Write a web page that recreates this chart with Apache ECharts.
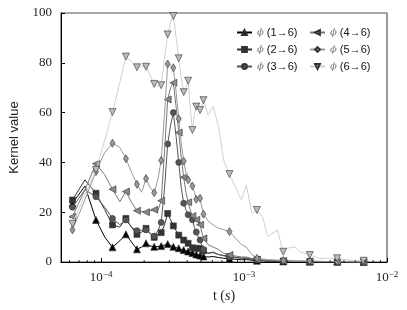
<!DOCTYPE html>
<html><head><meta charset="utf-8">
<script src="https://cdn.jsdelivr.net/npm/echarts@6/dist/echarts.min.js"></script>
<style>html,body{margin:0;padding:0;background:#fff}#c{width:407px;height:310px}</style>
</head><body><div id="c"></div>
<script>
// time grid in microseconds
const timesUs = [63,77,92,106,120,135,149,163,178,192,206,220,235,249,263,278,292,306,320,335,349,363,378,392,406,420,435,449,463,478,492,506,520,
  560,607,664,718,790,958,1038,1135,1230,1349,1459,1709,1880,2000,2270,2456,2880,3365,3881,4480,5754,6860];
// indices of points that carry a marker
const markerIdx = [0,2,4,6,8,10,12,14,16,18,20,22,24,26,28,30,32,37,41,45,49,52,54];

const k16 = [23.6,30.5,16.9,10,5.9,8.5,11.1,8,5.1,6,7.5,6.5,6.1,6.2,6.4,6.8,7.2,6.6,6.1,5.8,5.5,5.1,4.8,4.5,4.2,3.9,3.6,3.3,3.0,2.8,2.6,2.4,2.2,
  2.0,2.2,1.8,1.5,1.3,0.9,1.0,0.7,0.5,0.5,0.3,0.3,0.2,0.2,0.2,0.1,0.1,0.1,0.1,0.1,0,0];
const k26 = [24.9,33,27.6,21,14.9,14,17.5,14,11.1,12,13.5,11.5,9.9,11,11.8,15,19.5,17,14.5,12.5,10.8,9.8,8.8,8,7.5,6.5,5.7,5.6,5.5,5.5,5.4,5,4.5,
  3.5,3.8,3,2.6,2.2,1.6,1.6,1.2,1.0,0.8,0.6,0.5,0.4,0.4,0.3,0.3,0.2,0.2,0.1,0.1,0.1,0];
const k36 = [22,29,26.2,22,17.5,15,16.9,14,12.6,12.8,12.9,11.5,10.4,12.5,15.9,30,47.4,55,60,50,40,30,23.6,21,19,18,17,14,12,10,8.8,6.5,5,
  3.5,4,3,2.5,2,1.5,1.5,1,0.8,0.6,0.5,0.4,0.3,0.3,0.2,0.2,0.2,0.1,0.1,0.1,0,0];
const k46 = [18.2,29,39.5,35,29.2,24.2,28.3,24,20.6,20.3,20,20.5,21,20.5,24.6,45,65.3,70,72,62,52,42,34,28,24,21,18.5,17.5,17,16,15,12,9.5,
  7,6,5,3.5,2.8,2,2,1.4,1,0.8,0.6,0.5,0.4,0.3,0.3,0.2,0.2,0.1,0.1,0.1,0,0];
const k56 = [12.9,25,36.3,44,47.7,46,41.5,36,31.2,28,33.5,30,27.8,33,40.8,60,79.5,79,78,68,57.5,48,40.5,36,33,32,30.5,28,25.2,25.5,25.6,22,19.2,
  16.5,14.9,13.5,13,12.2,7,5.9,3,1.5,1.2,1.0,0.8,0.6,0.5,0.4,0.4,0.5,0.3,0.2,0.2,0.1,0.1];
const k66 = [15.3,27,37,49,60.2,72,82.5,80.5,78.2,78.5,78.4,75,71.5,70.5,71,82,91.4,96,98.8,90,81.8,74,68.2,70,72.8,62,53,59,62.4,61.5,61,63,65,
  59,62.4,54.3,41,35.3,24.9,30.9,19.5,20.9,18.2,10.2,12.9,4.1,5.5,6.1,4.1,2.8,1.5,1.5,1.5,0.5,0.5];

const seriesNames = ['(1→6)','(2→6)','(3→6)','(4→6)','(5→6)','(6→6)'];
const yTicks = [0,20,40,60,80,100];
const xMinor = [6e-5,7e-5,8e-5,9e-5,2e-4,3e-4,4e-4,5e-4,6e-4,7e-4,8e-4,9e-4,2e-3,3e-3,4e-3,5e-3,6e-3,7e-3,8e-3,9e-3];

function build(vals){
  return vals.map((v,i)=> markerIdx.indexOf(i) >= 0 ? [timesUs[i]*1e-6, v] : {value:[timesUs[i]*1e-6, v], symbol:'none'});
}
const styles = [
  {data:k16, line:'#000000', fill:'#000000', symbol:'triangle', size:7, rot:0},
  {data:k26, line:'#333333', fill:'#333333', symbol:'rect', size:6, rot:0},
  {data:k36, line:'#555555', fill:'#555555', symbol:'circle', size:6, rot:0},
  {data:k46, line:'#777777', fill:'#888888', symbol:'triangle', size:7, rot:90},
  {data:k56, line:'#999999', fill:'#999999', symbol:'diamond', size:[5,8], rot:0},
  {data:k66, line:'#d0d0d0', fill:'#bbbbbb', symbol:'triangle', size:7, rot:180}
];
const series = styles.map((s,i)=>({
  name: seriesNames[i], type:'line', data: build(s.data),
  symbol: s.symbol, symbolSize: s.size, symbolRotate: s.rot,
  color: s.line,
  lineStyle:{color:s.line, width:1},
  itemStyle:{color:s.fill, borderColor:'#333', borderWidth:0.6, opacity:1},
  emphasis:{disabled:true}, animation:false, z: 2+i
}));
series.push({
  type:'custom', silent:true, animation:false, z:20,
  data: xMinor.map(v=>[v,0]),
  renderItem:(params, api)=>{
    const p = api.coord([api.value(0), 0]);
    return {type:'line', shape:{x1:p[0], y1:p[1], x2:p[0], y2:p[1]-2}, style:{stroke:'#000', lineWidth:0.8}};
  }
});

const legendCommon = {
  orient:'vertical', itemWidth:15, itemHeight:6, itemGap:6,
  textStyle:{fontFamily:'Liberation Sans', fontSize:11, color:'#111',
    rich:{phi:{fontFamily:'DejaVu Serif', fontStyle:'italic', fontSize:10, color:'#777'}}},
  formatter: n => '{phi|ϕ} ' + n
};

const chart = echarts.init(document.getElementById('c'), null, {renderer:'canvas'});
chart.setOption({
  backgroundColor:'#fff',
  animation:false,
  grid:{left:54, right:20, top:13, bottom:48, show:true, borderColor:'#555', borderWidth:1.2},
  legend:[
    Object.assign({}, legendCommon, {data:seriesNames.slice(0,3), left:231, top:22}),
    Object.assign({}, legendCommon, {data:seriesNames.slice(3,6), left:304, top:22})
  ],
  xAxis:{
    type:'log', logBase:10, min:5.236e-5, max:1e-2,
    axisLine:{lineStyle:{color:'#000', width:1}},
    axisTick:{inside:true, length:4, lineStyle:{color:'#000'}},
    splitLine:{show:false},
    axisLabel:{
      margin:8,
      formatter: v => {
        const e = Math.log10(v);
        if (Math.abs(e - Math.round(e)) > 1e-6) return '';
        return '{b|10}{s|−' + Math.abs(Math.round(e)) + '}';
      },
      rich:{
        b:{fontFamily:'Liberation Serif', fontSize:13, color:'#222'},
        s:{fontFamily:'Liberation Serif', fontSize:9, color:'#222', verticalAlign:'top', padding:[0,0,7,0]}
      }
    },
    name:'{a|t (}{i|s}{a|)}', nameLocation:'middle', nameGap:27,
    nameTextStyle:{rich:{
      a:{fontFamily:'Liberation Serif', fontSize:14, color:'#222'},
      i:{fontFamily:'Liberation Serif', fontStyle:'italic', fontSize:14, color:'#222'}
    }}
  },
  yAxis:{
    type:'value', min:yTicks[0], max:yTicks[yTicks.length-1], interval:20,
    axisLine:{show:true, lineStyle:{color:'#000', width:1}},
    axisTick:{show:true, inside:true, length:4, lineStyle:{color:'#000'}},
    splitLine:{show:false},
    axisLabel:{margin:9, fontFamily:'Liberation Serif', fontSize:13, color:'#222'},
    name:'Kernel value', nameLocation:'middle', nameGap:40,
    nameTextStyle:{fontFamily:'Liberation Sans', fontSize:13, color:'#222'}
  },
  series: series
});
</script>
</body></html>
